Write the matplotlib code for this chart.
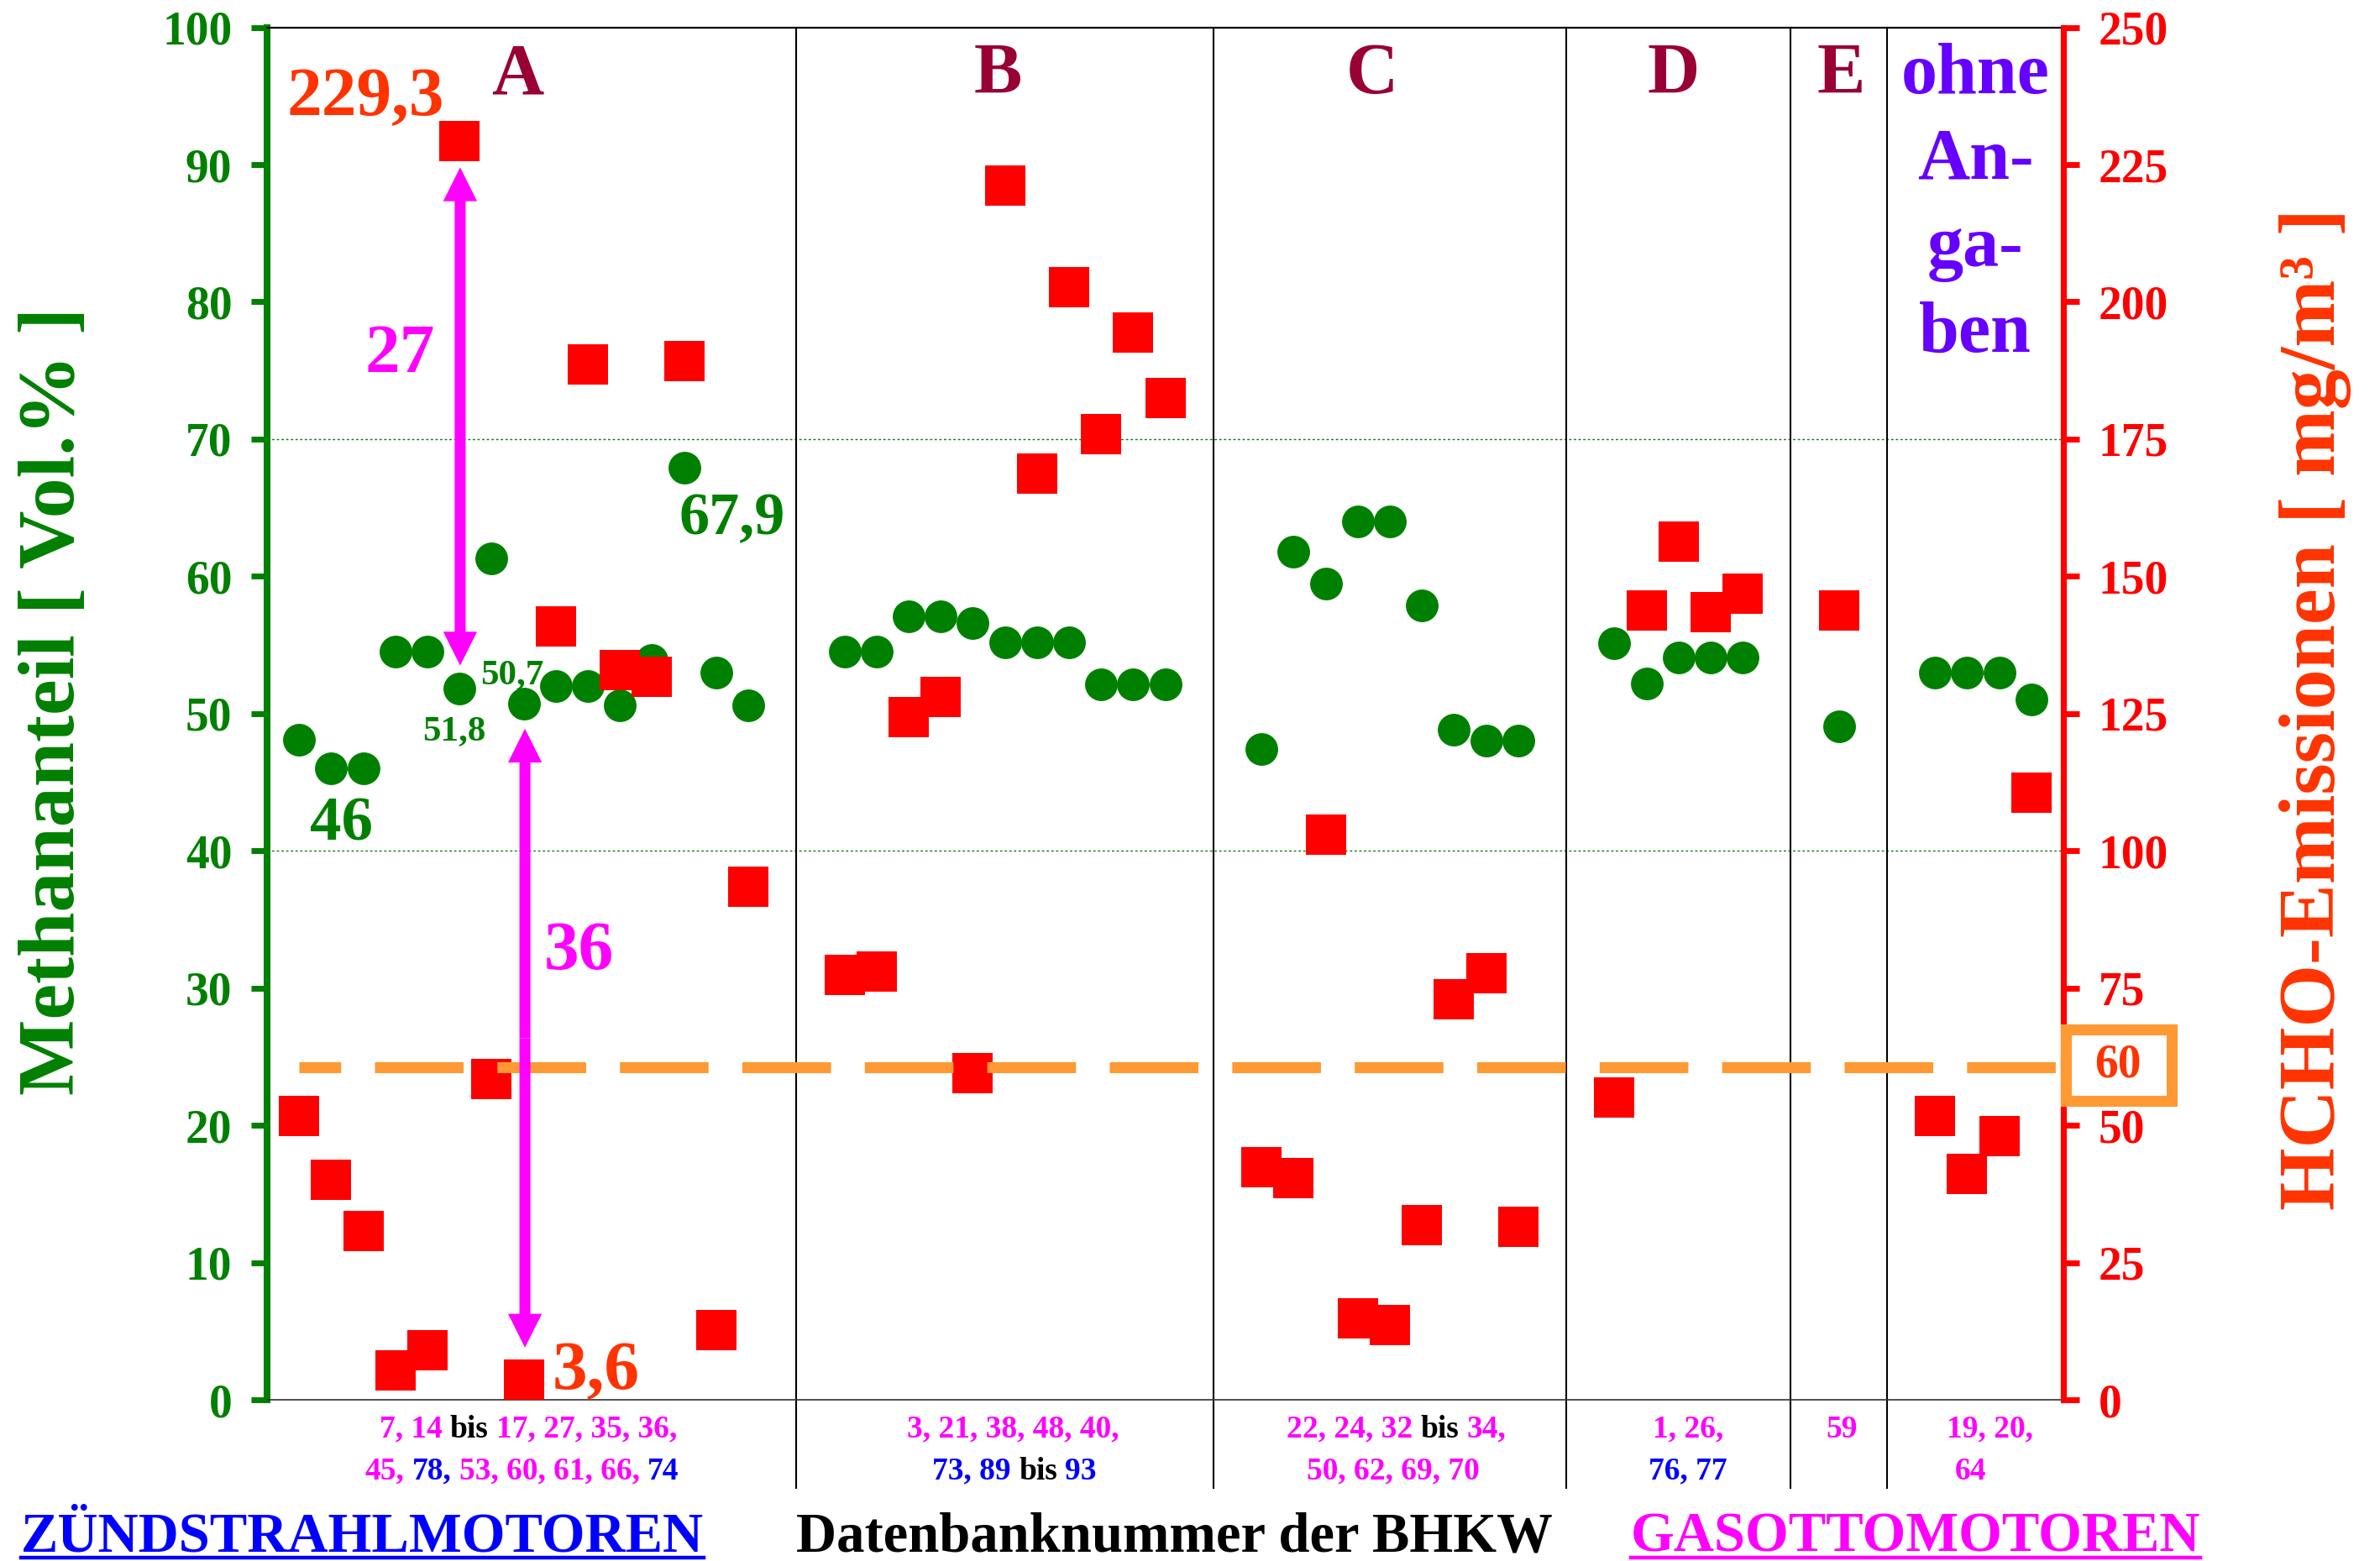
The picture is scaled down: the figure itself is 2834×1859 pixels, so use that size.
import matplotlib
matplotlib.use("Agg")
import matplotlib.pyplot as plt
from matplotlib.offsetbox import TextArea, HPacker, AnnotationBbox
from matplotlib.patches import Rectangle
from matplotlib.lines import Line2D

plt.rcParams['font.family'] = ['Liberation Serif', 'DejaVu Serif']
plt.rcParams['font.weight'] = 'bold'
plt.rcParams['lines.scale_dashes'] = False

GREEN = '#008000'
RED = '#FF0000'
ORANGE_RED = '#FF3300'
MAGENTA = '#FF00FF'
BLUE = '#0000FF'
DARK_RED = '#990033'
PURPLE = '#6600FF'
ORANGE = '#FF9933'

# positions of the engines along the x axis (gaps between groups)
pos_a = list(range(1, 16))
pos_b = list(range(18, 29))
pos_c = list(range(31, 40))
pos_d = list(range(42, 47))
pos_e = [49]
pos_o = [52, 53, 54, 55]
positions = pos_a + pos_b + pos_c + pos_d + pos_e + pos_o

# methane share [Vol.%]
ch4_a = [48.1, 46.0, 46.0, 54.5, 54.5, 51.8, 61.3, 50.7, 52.0, 52.0, 50.6, 53.9, 67.9, 53.0, 50.6]
ch4_b = [54.5, 54.5, 57.1, 57.1, 56.6, 55.2, 55.2, 55.2, 52.1, 52.1, 52.1]
ch4_c = [47.4, 61.8, 59.5, 64.0, 64.0, 57.9, 48.8, 48.0, 48.0]
ch4_d = [55.1, 52.2, 54.1, 54.1, 54.1]
ch4_e = [49.1]
ch4_o = [53.0, 53.0, 53.0, 51.0]
methane = ch4_a + ch4_b + ch4_c + ch4_d + ch4_e + ch4_o

# HCHO emissions [mg/m3]
hcho_a = [51.7, 40.1, 30.7, 5.3, 9.1, 229.3, 58.4, 3.6, 140.9, 188.6, 133.0, 131.7, 189.2, 12.7, 93.5]
hcho_b = [77.4, 78.0, 124.4, 128.0, 59.5, 221.2, 168.7, 202.7, 175.9, 194.4, 182.5]
hcho_c = [42.3, 40.4, 102.9, 14.9, 13.6, 31.8, 73.0, 77.7, 31.5]
hcho_d = [55.0, 143.8, 156.3, 143.5, 146.8]
hcho_e = [143.8]
hcho_o = [51.7, 41.2, 48.1, 110.6]
hcho = hcho_a + hcho_b + hcho_c + hcho_d + hcho_e + hcho_o

hcho_limit = 60
hcho_limit_drawn = 60.6
separators = [16.5, 29.5, 40.5, 47.5, 50.5]
group_names = ['A', 'B', 'C', 'D', 'E']
group_x = [7.81, 22.78, 34.46, 43.85, 49.07]

# engine numbers below the axis: (x, row, pieces)
number_rows = [
    (8.14, 0, [('7, 14', MAGENTA), ('bis', 'black'), ('17, 27, 35, 36,', MAGENTA)]),
    (7.95, 1, [('45,', MAGENTA), ('78,', BLUE), ('53, 60, 61, 66,', MAGENTA), ('74', BLUE)]),
    (23.26, 0, [('3, 21, 38, 48, 40,', MAGENTA)]),
    (23.30, 1, [('73, 89', BLUE), ('bis', 'black'), ('93', BLUE)]),
    (35.20, 0, [('22, 24, 32', MAGENTA), ('bis', 'black'), ('34,', MAGENTA)]),
    (35.10, 1, [('50, 62, 69, 70', MAGENTA)]),
    (44.30, 0, [('1, 26,', MAGENTA)]),
    (44.30, 1, [('76, 77', BLUE)]),
    (49.10, 0, [('59', MAGENTA)]),
    (53.70, 0, [('19, 20,', MAGENTA)]),
    (53.10, 1, [('64', MAGENTA)]),
]

fig = plt.figure(figsize=(28.34, 18.59), dpi=100)
ax = fig.add_axes([0.1122, 0.10328, 0.7548, 0.87918])
ax2 = ax.twinx()

ax.set_xlim(0, 56)
ax.set_ylim(0, 100)
ax2.set_ylim(0, 250)
ax.set_xticks([])
ax.set_yticks(range(0, 101, 10))
ax2.set_yticks(range(0, 251, 25))

# spines
ax.spines['left'].set_color(GREEN)
ax.spines['left'].set_linewidth(5.8)
ax.spines['right'].set_visible(False)
ax.spines['top'].set_color('black')
ax.spines['top'].set_linewidth(1.6)
ax.spines['bottom'].set_color('#333333')
ax.spines['bottom'].set_linewidth(1.2)
for s in ['left', 'top', 'bottom']:
    ax2.spines[s].set_visible(False)
ax2.spines['right'].set_color(RED)
ax2.spines['right'].set_linewidth(5.2)

ax.tick_params(axis='y', direction='out', length=14, width=5, color=GREEN,
               labelcolor=GREEN, labelsize=40, pad=16)
ax2.tick_params(axis='y', direction='out', length=14, width=5, color=RED,
                labelcolor=RED, labelsize=40, pad=16)

# helper lines
for yv in [40, 70]:
    ax.axhline(yv, color=GREEN, lw=1, ls=(0, (2, 2)), zorder=1)
for xs in separators:
    ax.plot([xs, xs], [1, -0.064], transform=ax.get_xaxis_transform(),
            color='black', lw=1.5, clip_on=False, zorder=1)

# data
ax.plot(positions, methane, 'o', ms=28, color=GREEN, mew=0, zorder=3)
ax2.plot(positions, hcho, 's', ms=34, color=RED, mew=0, zorder=2)

# limit line at 60 mg/m3
ax2.plot([1.0, 56], [hcho_limit_drawn, hcho_limit_drawn], color=ORANGE, lw=9.4,
         ls=(40.2, (76, 29)), zorder=2.5, clip_on=False)
fig.add_artist(Rectangle((0.8679, 0.29452), 0.04446, 0.04572, transform=fig.transFigure,
                         facecolor='white', edgecolor=ORANGE, lw=9.4, zorder=5))
fig.text(0.8899, 0.3174, str(hcho_limit), color=ORANGE_RED, fontsize=40,
         ha='center', va='center', zorder=6)

# arrows (double headed, built from two halves)
arrow_style = 'simple,head_length=29,head_width=29,tail_width=9.4'
for xa, y_top, y_bot in [(6.02, 89.8, 53.5), (8.04, 48.9, 3.8)]:
    mid = (y_top + y_bot) / 2
    for yend in (y_top, y_bot):
        ax2.annotate('', xy=(xa, yend), xytext=(xa, mid), xycoords=ax.transData,
                     arrowprops=dict(arrowstyle=arrow_style, mutation_scale=1,
                                     color=MAGENTA, lw=0, shrinkA=0, shrinkB=0),
                     zorder=6)

# value annotations
ax.text(3.08, 93.6, '229,3', color=ORANGE_RED, fontsize=60, ha='center', va='baseline')
ax.text(10.25, 0.77, '3,6', color=ORANGE_RED, fontsize=60, ha='center', va='baseline')
ax.text(4.13, 74.9, '27', color=MAGENTA, fontsize=60, ha='center', va='baseline')
ax.text(9.73, 31.4, '36', color=MAGENTA, fontsize=60, ha='center', va='baseline')
ax.text(2.33, 40.8, '46', color=GREEN, fontsize=54, ha='center', va='baseline')
ax.text(14.5, 63.05, '67,9', color=GREEN, fontsize=52, ha='center', va='baseline')
ax.text(5.84, 48.1, '51,8', color=GREEN, fontsize=31, ha='center', va='baseline')
ax.text(7.64, 52.2, '50,7', color=GREEN, fontsize=31, ha='center', va='baseline')

for name, gx in zip(group_names, group_x):
    ax.text(gx, 95.2, name, color=DARK_RED, fontsize=62, ha='center', va='baseline')
for txt, yb in zip(['ohne', 'An-', 'ga-', 'ben'], [95.2, 89.0, 82.6, 76.4]):
    ax.text(53.25, yb, txt, color=PURPLE, fontsize=62, ha='center', va='baseline')

# engine numbers under the axis
row_y = [-0.0215, -0.0522]
for xn, row, pieces in number_rows:
    boxes = [TextArea(t, textprops=dict(color=c, fontsize=27, fontweight='bold')) for t, c in pieces]
    pack = HPacker(children=boxes, align='baseline', pad=0, sep=6.75)
    ab = AnnotationBbox(pack, (xn, row_y[row]), xycoords=('data', 'axes fraction'),
                        box_alignment=(0.5, 0.5), frameon=False, pad=0, annotation_clip=False)
    ax.add_artist(ab)

# axis titles
fig.text(0.0229, 0.5508, 'Methananteil [ Vol.% ]', rotation=90, ha='center', va='center',
         fontsize=69, color=GREEN)
fig.text(0.9729, 0.5455, 'HCHO-Emissionen [ mg/m³ ]', rotation=90, ha='center', va='center',
         fontsize=69, color=ORANGE_RED)

titles = [
    (0.1524, 'ZÜNDSTRAHLMOTOREN', BLUE, True),
    (0.4933, 'Datenbanknummer der BHKW', 'black', False),
    (0.8049, 'GASOTTOMOTOREN', MAGENTA, True),
]
title_artists = []
for tx, s, c, ul in titles:
    t = fig.text(tx, 0.00645, s, ha='center', va='baseline', fontsize=48, color=c)
    title_artists.append((t, c, ul))

fig.canvas.draw()
inv = fig.transFigure.inverted()
for t, c, ul in title_artists:
    if not ul:
        continue
    bb = t.get_window_extent()
    (x0, _), (x1, _) = inv.transform([(bb.x0, 0), (bb.x1, 0)])
    fig.add_artist(Line2D([x0, x1], [0.0019, 0.0019], transform=fig.transFigure,
                          color=c, lw=3.2))

fig.savefig('out.png', dpi=100)
